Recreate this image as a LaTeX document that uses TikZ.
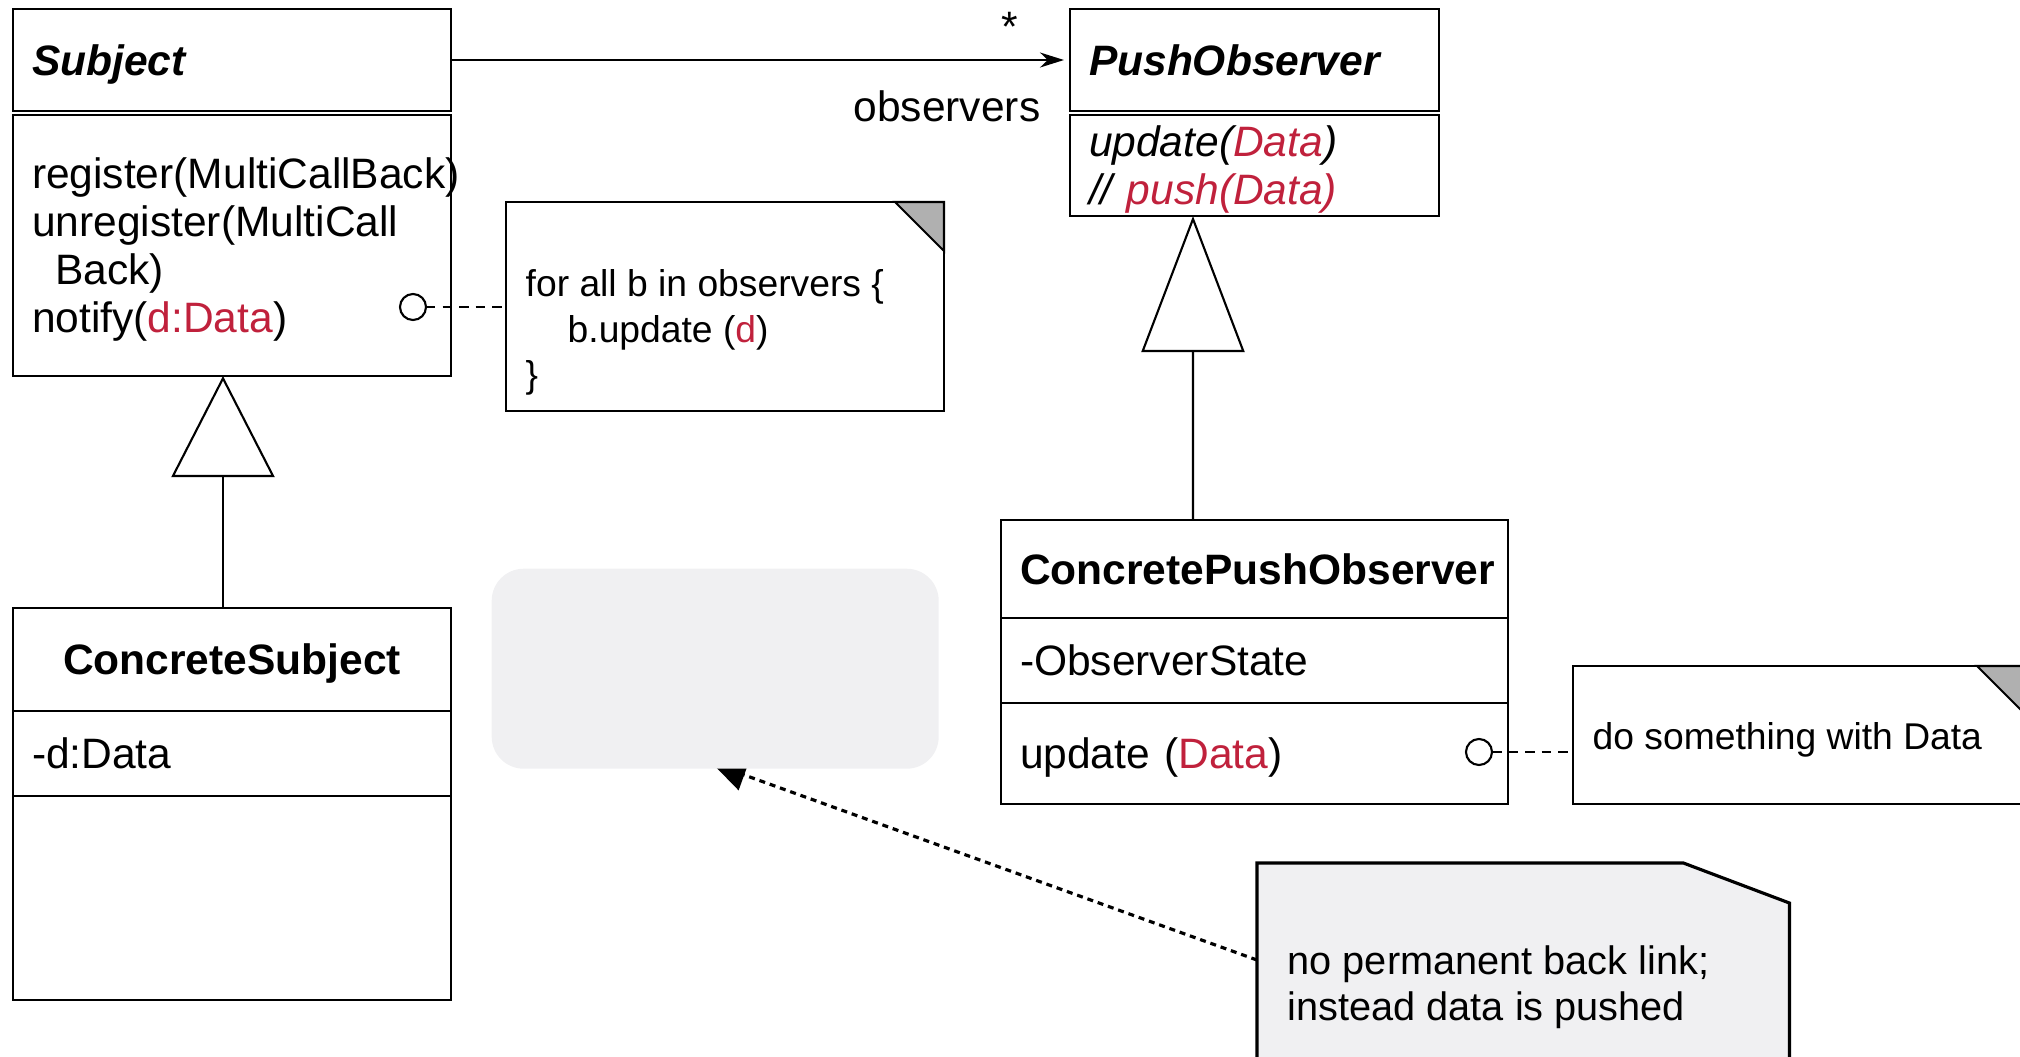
\documentclass[tikz,border=0pt]{standalone}
\usepackage{fontspec}
\setmainfont{Liberation Sans}
\usetikzlibrary{arrows.meta, positioning, backgrounds}

\definecolor{datared}{RGB}{192,33,60}
\definecolor{notegray}{RGB}{240,240,242}
\definecolor{foldgray}{RGB}{176,176,176}

\newcommand{\classfont}{\fontsize{12.1}{13.6}\selectfont}
\newcommand{\notefont}{\fontsize{10.6}{12.9}\selectfont}
\newcommand{\bignotefont}{\fontsize{11.3}{13.1}\selectfont}
\newcommand{\dat}[1]{\textcolor{datared}{#1}}
\newcommand{\lift}{\endgraf\vspace*{-0.08cm}}

\begin{document}
\begin{tikzpicture}[
  compart/.style={draw, line width=0.6pt, outer sep=0pt, inner xsep=0.19cm, inner ysep=0pt, align=left, font=\classfont,
    execute at end node=\lift},
  classname/.style={compart, align=center, font=\classfont\bfseries},
  note/.style={draw, line width=0.6pt, outer sep=0pt, fill=white, anchor=north west},
  notetext/.style={inner sep=0pt, align=left, anchor=west, font=\notefont},
  fold/.style={draw, line width=0.6pt, fill=foldgray},
  dot/.style={draw, circle, line width=0.6pt, minimum size=0.26cm, inner sep=0pt, outer sep=0pt, fill=white},
  lbl/.style={font=\classfont, inner sep=0pt},
  tether/.style={line width=0.5pt, dash pattern=on 2.7pt off 2pt},
  assoc/.style={line width=0.6pt, -{Stealth[length=0.24cm, width=0.15cm]}, shorten >=0.06cm},
  generalize/.style={line width=0.6pt, -{Triangle[open, length=#1, width=1.03cm]}},
  backlink/.style={line width=0.9pt, dash pattern=on 1.7pt off 1.4pt, -{Triangle[length=0.34cm, width=0.32cm]}}
]
\useasboundingbox (0,0) rectangle (20.2,-10.56);

% Subject
\node[compart, text width=4cm, minimum height=1.02cm, anchor=north west] (subjhead) at (0.13,-0.09) {\textbf{\textit{Subject}}};
\node[compart, text width=4cm, minimum height=2.61cm, below=0.04cm of subjhead] (subjops) {register(MultiCallBack)\\unregister(MultiCall\\\hspace*{0.23cm}Back)\\notify(\dat{d:Data})};

% PushObserver
\node[compart, text width=3.31cm, minimum height=1.02cm, anchor=north west] (pushhead) at (10.70,-0.09) {\textbf{\textit{PushObserver}}};
\node[compart, text width=3.31cm, minimum height=1.01cm, below=0.04cm of pushhead] (pushops) {\textit{update(\dat{Data})}\\\textit{// \dat{push(Data)}}};

% ConcretePushObserver
\node[classname, text width=4.69cm, minimum height=0.98cm, anchor=north west] (cpohead) at (10.01,-5.20) {ConcretePushObserver};
\node[compart, text width=4.69cm, minimum height=0.85cm, below=0cm of cpohead] (cpoattr) {-ObserverState};
\node[compart, text width=4.69cm, minimum height=1.01cm, below=0cm of cpoattr] (cpoops) {update (\dat{Data})};

% ConcreteSubject
\node[classname, text width=4cm, minimum height=1.03cm, anchor=north west] (cshead) at (0.13,-6.08) {ConcreteSubject};
\node[compart, text width=4cm, minimum height=0.85cm, below=0cm of cshead] (csattr) {-d:Data};
\node[compart, text width=4cm, minimum height=2.04cm, below=0cm of csattr] (csops) {};

% Notes
\node[note, minimum width=4.38cm, minimum height=2.09cm] (loopnote) at (5.06,-2.02) {};
\draw[fold] ([xshift=-0.49cm]loopnote.north east) -- (loopnote.north east) -- ([yshift=-0.49cm]loopnote.north east) -- cycle;
\node[notetext] (looptext) at ([xshift=0.19cm, yshift=-0.26cm]loopnote.west) {for all b in observers \{\\\hspace*{0.42cm}b.update (\dat{d})\\\}};

\node[note, minimum width=4.53cm, minimum height=1.38cm] (usenote) at (15.73,-6.66) {};
\draw[fold] ([xshift=-0.49cm]usenote.north east) -- (usenote.north east) -- ([yshift=-0.49cm]usenote.north east) -- cycle;
\node[notetext] (usetext) at ([xshift=0.19cm, yshift=-0.05cm]usenote.west) {do something with Data};

\node[minimum width=5.31cm, minimum height=2.6cm, inner sep=0pt, anchor=north west] (linknote) at (12.57,-8.63) {};
\draw[line width=0.9pt, fill=notegray] (linknote.south west) -- (linknote.north west) -- ([xshift=-1.06cm]linknote.north east) -- ([yshift=-0.40cm]linknote.north east) -- (linknote.south east) -- cycle;
\node[notetext, font=\bignotefont] (linktext) at ([xshift=0.30cm, yshift=-1.24cm]linknote.north west) {no permanent back link;\\instead data is pushed};

% Empty gray box
\node[fill=notegray, rounded corners=0.32cm, minimum width=4.47cm, minimum height=2cm, inner sep=0pt, anchor=north west] (blank) at (4.91,-5.68) {};

% Lollipops and tethers
\node[dot] (subjdot) at (4.13,-3.07) {};
\node[dot] (cpodot) at (14.79,-7.52) {};
\draw[tether] (subjdot) -- (loopnote.west |- subjdot);
\draw[tether] (cpodot) -- (usenote.west |- cpodot);

% Association
\draw[assoc] (subjhead.east) -- (pushhead.west);
\node[lbl] (mult) at ([xshift=-0.60cm, yshift=0.33cm]pushhead.west) {*};
\node[lbl, anchor=east] (role) at ([xshift=-0.29cm, yshift=-0.46cm]pushhead.west) {observers};

% Generalizations
\draw[generalize=1.01cm] ([xshift=-0.09cm]cshead.north) -- ([xshift=-0.09cm]subjops.south);
\draw[generalize=1.36cm] ([xshift=-0.615cm]cpohead.north) -- ([xshift=-0.615cm]pushops.south);

% Back link
\begin{pgfonlayer}{background}
\draw[backlink] ([yshift=-0.97cm]linknote.north west) -- ([xshift=-0.03cm, yshift=0.06cm]blank.south);
\end{pgfonlayer}

\end{tikzpicture}
\end{document}
